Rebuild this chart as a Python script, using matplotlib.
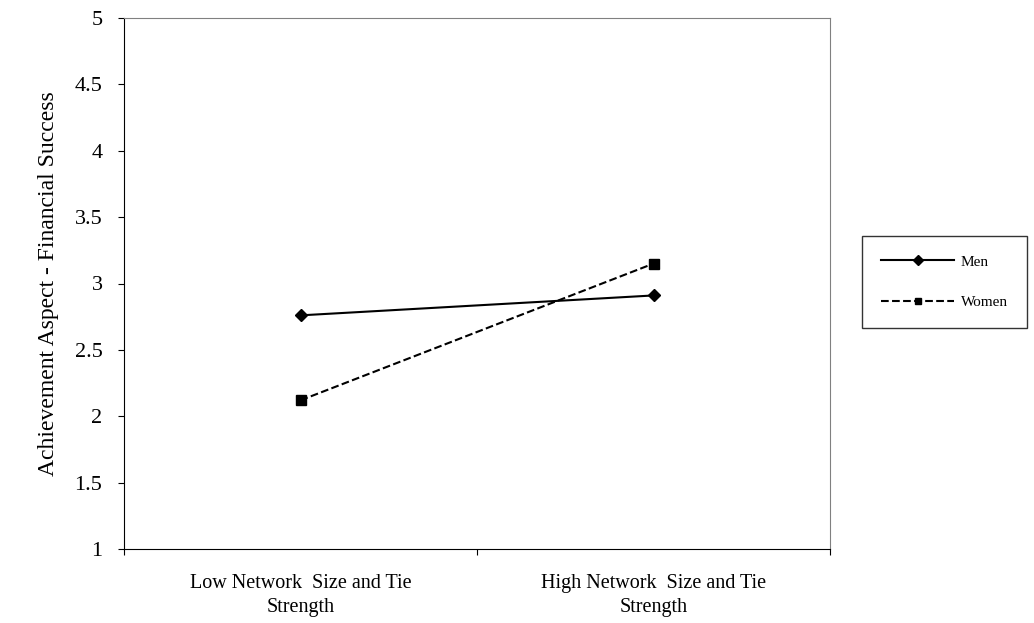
import matplotlib
matplotlib.use("Agg")
import matplotlib.pyplot as plt

categories = ["Low Network  Size and Tie\nStrength", "High Network  Size and Tie\nStrength"]
men = [2.76, 2.91]
women = [2.12, 3.15]
yticks = [1, 1.5, 2, 2.5, 3, 3.5, 4, 4.5, 5]
ytick_labels = ["1", "1.5", "2", "2.5", "3", "3.5", "4", "4.5", "5"]

plt.rcParams['font.family'] = ['Liberation Serif', 'DejaVu Serif']

fig = plt.figure(figsize=(10.34, 6.23), dpi=100)
ax = fig.add_axes([124 / 1034, 1 - 549 / 623, (830 - 124) / 1034, (549 - 18) / 623])

x = list(range(len(categories)))
ax.plot(x, men, color='black', linestyle='-', linewidth=1.5, marker='D', markersize=6, label='Men')
ax.plot(x, women, color='black', linestyle='--', linewidth=1.5, marker='s', markersize=7, label='Women')

ax.set_xlim(-0.5, len(categories) - 0.5)
ax.set_ylim(1, 5)
ax.set_yticks(yticks)
ax.set_yticklabels(ytick_labels, fontsize=16)
ax.set_xticks([i - 0.5 for i in range(len(categories) + 1)])
ax.set_xticklabels([])
ax.set_xticks(x, minor=True)
ax.set_xticklabels(categories, minor=True, fontsize=14.5, linespacing=1.35)
ax.tick_params(axis='x', which='minor', length=0, pad=18)
ax.tick_params(axis='x', which='major', length=4.5, direction='out')
ax.tick_params(axis='y', length=4.5, direction='out', pad=11)
ax.set_ylabel("Achievement Aspect - Financial Success", fontsize=17, labelpad=11)

ax.spines['top'].set_color('#808080')
ax.spines['right'].set_color('#808080')

leg = ax.legend(loc='center left', bbox_to_anchor=(862 / 1034, 1 - 282 / 623), bbox_transform=fig.transFigure,
                fontsize=11, frameon=True, fancybox=False, edgecolor='black', handlelength=4.8,
                borderpad=1.25, labelspacing=1.75, handletextpad=0.4, borderaxespad=0)
leg.get_frame().set_linewidth(1.0)
for h in leg.legend_handles:
    h.set_markersize(5)

fig.savefig("out.png", dpi=100)
